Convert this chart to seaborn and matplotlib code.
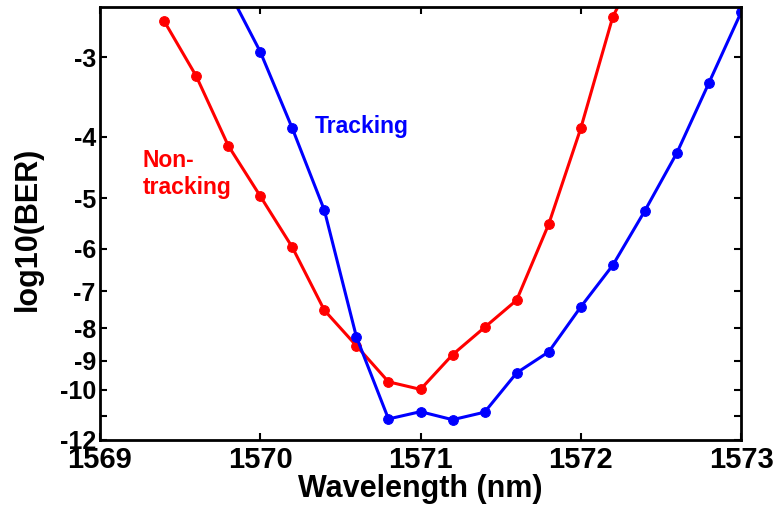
import matplotlib
matplotlib.use("Agg")
import matplotlib.pyplot as plt
import numpy as np
import seaborn as sns
from matplotlib.ticker import FixedLocator, NullLocator

# Wavelength (nm) and log10(BER)
wl_nontrack = [1569.4, 1569.6, 1569.8, 1570.0, 1570.2, 1570.4, 1570.6, 1570.8,
               1571.0, 1571.2, 1571.4, 1571.6, 1571.8, 1572.0, 1572.2, 1572.4]
ber_nontrack = [-2.63, -3.21, -4.13, -4.96, -5.97, -7.50, -8.53, -9.72,
                -9.99, -8.81, -7.98, -7.23, -5.49, -3.88, -2.59, -2.06]

wl_track = [1569.8, 1570.0, 1570.2, 1570.4, 1570.6, 1570.8, 1571.0, 1571.2,
            1571.4, 1571.6, 1571.8, 1572.0, 1572.2, 1572.4, 1572.6, 1572.8, 1573.0]
ber_track = [-2.35, -2.94, -3.88, -5.22, -8.26, -11.12, -10.83, -11.15,
             -10.85, -9.41, -8.72, -7.41, -6.37, -5.23, -4.24, -3.29, -2.55]

y_ticks = [-3, -4, -5, -6, -7, -8, -9, -10, -11, -12]
y_ticklabels = ["-3", "-4", "-5", "-6", "-7", "-8", "-9", "-10", "", "-12"]
x_ticks = [1569, 1570, 1571, 1572, 1573]

sns.set_style("white")
plt.rcParams["font.family"] = ["Liberation Sans", "DejaVu Sans"]
plt.rcParams["font.weight"] = "bold"
for k in ["text.color", "axes.labelcolor", "xtick.color", "ytick.color"]:
    plt.rcParams[k] = "black"

fig = plt.figure(figsize=(7.77, 5.14), dpi=100)
ax = fig.add_axes([0.1287, 0.144, 0.825, 0.8424])

# the y axis is log10(BER) on a log(-log10 BER) scale, so plot -log10(BER)
sns.lineplot(x=wl_nontrack, y=-np.array(ber_nontrack), ax=ax, color="#ff0000",
             marker="o", markersize=7, markeredgecolor="#ff0000", linewidth=2.2,
             sort=False)
sns.lineplot(x=wl_track, y=-np.array(ber_track), ax=ax, color="#0000ff",
             marker="o", markersize=7, markeredgecolor="#0000ff", linewidth=2.2,
             sort=False)

ax.set_yscale("log")
ax.set_ylim(12, 2.5)
ax.set_xlim(1569, 1573)
ax.yaxis.set_major_locator(FixedLocator([-v for v in y_ticks]))
ax.yaxis.set_minor_locator(NullLocator())
ax.set_yticklabels(y_ticklabels, fontsize=18, fontweight="bold")
ax.set_xticks(x_ticks)
ax.set_xticklabels([str(v) for v in x_ticks], fontsize=21, fontweight="bold")

ax.tick_params(direction="in", length=5, width=1.5, top=True, right=True,
               left=True, bottom=True)
ax.tick_params(axis="x", pad=4)
ax.tick_params(axis="y", pad=3)
for s in ax.spines.values():
    s.set_linewidth(2)
    s.set_color("black")

ax.set_xlabel("Wavelength (nm)", fontsize=22, fontweight="bold")
ax.xaxis.set_label_coords(0.5, -0.113)
ax.set_ylabel("log10(BER)", fontsize=22, fontweight="bold")
ax.yaxis.set_label_coords(-0.112, 0.487)
ax.yaxis.label.set_va("center")
ax.xaxis.label.set_va("center")

ax.text(0.335, 0.709, "Tracking", transform=ax.transAxes, color="#0000ff",
        fontsize=16.5, fontweight="bold", va="baseline", ha="left")
ax.text(0.067, 0.630, "Non-", transform=ax.transAxes, color="#ff0000",
        fontsize=16.5, fontweight="bold", va="baseline", ha="left")
ax.text(0.067, 0.568, "tracking", transform=ax.transAxes, color="#ff0000",
        fontsize=16.5, fontweight="bold", va="baseline", ha="left")

fig.savefig("out.png", dpi=100)
